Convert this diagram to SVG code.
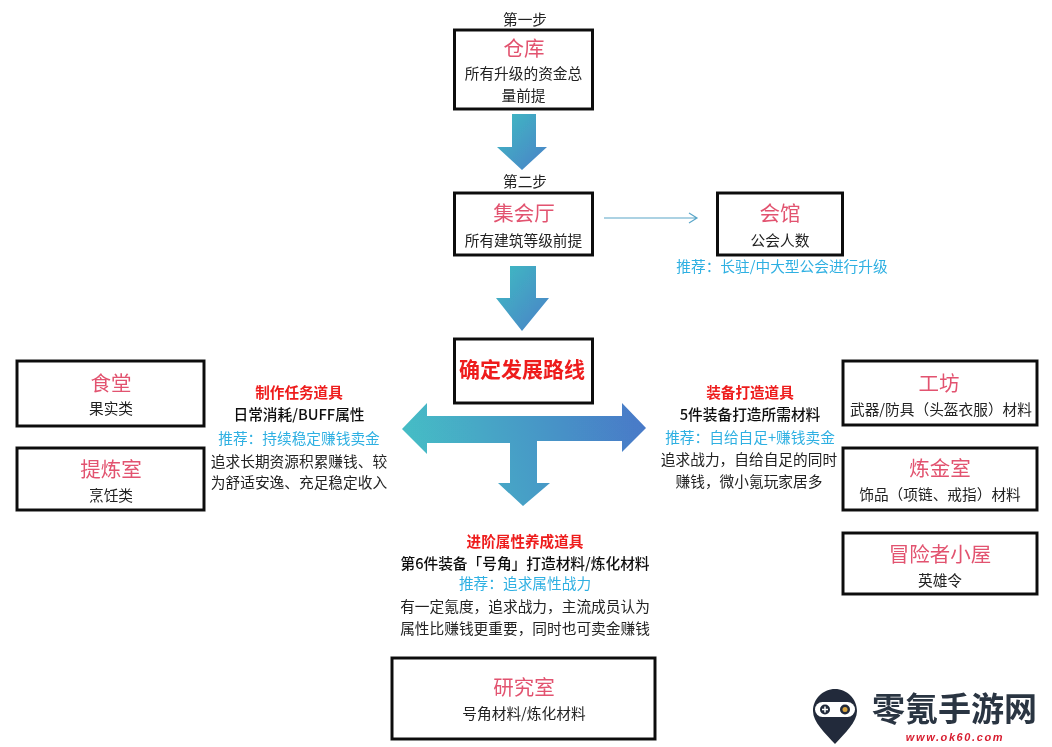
<svg xmlns="http://www.w3.org/2000/svg" width="1052" height="747" viewBox="0 0 1052 747">
<style>
text{font-family:"Noto Sans CJK SC","Noto Sans",sans-serif;text-anchor:middle;font-size:14.7px;fill:#222}
.box{fill:#fff;stroke:#111;stroke-width:3}
.t{font-size:20.5px;fill:#e2536f}
.red{fill:#ee1c1c;font-weight:700;font-size:14.6px}
.blk{fill:#111;font-weight:500}
.cy{fill:#2fb0e2}
.wm{fill:#2a3442;font-size:33px;font-weight:700;text-anchor:start}
.url{fill:#d81e30;font-size:11px;font-weight:700;font-style:italic;letter-spacing:1.600px;font-family:"Liberation Sans",sans-serif}
</style>
<defs>
<linearGradient id="g1" x1="0" y1="0" x2="1" y2="1"><stop offset="0" stop-color="#3fbcc2"/><stop offset="1" stop-color="#4a80c8"/></linearGradient>
<linearGradient id="g2" gradientUnits="userSpaceOnUse" x1="402" y1="470" x2="646" y2="410"><stop offset="0" stop-color="#45c0c5"/><stop offset="1" stop-color="#4878c8"/></linearGradient>
<filter id="soft" filterUnits="userSpaceOnUse" x="0" y="0" width="1052" height="747"><feGaussianBlur stdDeviation="0.35"/></filter>
</defs>
<rect width="1052" height="747" fill="#fff"/>
<g filter="url(#soft)">
<g id="connectors">
<path fill="url(#g1)" d="M512 114H536V147H547L522 170L497 147H512Z"/>
<path fill="url(#g1)" d="M510 266H536V298H549L522 331L496 298H510Z"/>
<path fill="url(#g2)" d="M402 429L427 403V416H622V403L646 428L622 452V441H537V483H550L523 506L498 483H510V443H427V454Z"/>
<path fill="none" stroke="#5aa6c8" stroke-width="1.2" d="M604 218H697M689 213L697 218L689 223"/>
</g>
<g id="step1"><text x="525" y="25">第一步</text></g>
<g id="cangku"><rect class="box" x="454.500" y="30" width="138" height="79"/><text class="t" x="524" y="56">仓库</text><text x="523.500" y="79">所有升级的资金总</text><text x="523.500" y="101">量前提</text></g>
<g id="step2"><text x="525" y="187">第二步</text></g>
<g id="jihuiting"><rect class="box" x="454.500" y="193" width="138" height="62"/><text class="t" x="524" y="221">集会厅</text><text x="523.500" y="246">所有建筑等级前提</text></g>
<g id="huiguan"><rect class="box" x="717.500" y="193" width="125" height="62"/><text class="t" x="780" y="221">会馆</text><text x="780" y="246">公会人数</text></g>
<g id="huiguan-note"><text class="cy" x="782" y="272">推荐：长驻/中大型公会进行升级</text></g>
<g id="route"><rect class="box" x="454.500" y="339" width="138" height="64"/><text class="red" style="font-size:21px" x="522" y="377">确定发展路线</text></g>
<g id="shitang"><rect class="box" x="17" y="361" width="187" height="65"/><text class="t" x="111" y="391">食堂</text><text x="111" y="414">果实类</text></g>
<g id="tilianshi"><rect class="box" x="17" y="448" width="187" height="62"/><text class="t" x="111" y="477">提炼室</text><text x="111" y="501">烹饪类</text></g>
<g id="left-note">
<text class="red" x="299" y="398">制作任务道具</text>
<text class="blk" x="299" y="420">日常消耗/BUFF属性</text>
<text class="cy" x="299" y="444">推荐：持续稳定赚钱卖金</text>
<text x="299" y="467">追求长期资源积累赚钱、较</text>
<text x="299" y="488">为舒适安逸、充足稳定收入</text>
</g>
<g id="right-note">
<text class="red" x="750" y="398">装备打造道具</text>
<text class="blk" x="750" y="420">5件装备打造所需材料</text>
<text class="cy" x="750" y="443">推荐：自给自足+赚钱卖金</text>
<text x="749" y="465">追求战力，自给自足的同时</text>
<text x="749" y="487">赚钱，微小氪玩家居多</text>
</g>
<g id="gongfang"><rect class="box" x="843" y="361" width="194" height="64"/><text class="t" x="939" y="391">工坊</text><text x="941" y="415">武器/防具（头盔衣服）材料</text></g>
<g id="lianjinshi"><rect class="box" x="843" y="448" width="194" height="62"/><text class="t" x="940" y="476">炼金室</text><text x="940" y="500">饰品（项链、戒指）材料</text></g>
<g id="maoxianzhe"><rect class="box" x="843" y="533" width="194" height="61"/><text class="t" x="940" y="562">冒险者小屋</text><text x="940" y="586">英雄令</text></g>
<g id="bottom-note">
<text class="red" x="525" y="547">进阶属性养成道具</text>
<text class="blk" x="525" y="569">第6件装备「号角」打造材料/炼化材料</text>
<text class="cy" x="525" y="589">推荐：追求属性战力</text>
<text x="525" y="612">有一定氪度，追求战力，主流成员认为</text>
<text x="525" y="634">属性比赚钱更重要，同时也可卖金赚钱</text>
</g>
<g id="yanjiushi"><rect class="box" x="392" y="658" width="263" height="81"/><text class="t" x="524" y="695">研究室</text><text x="524" y="719">号角材料/炼化材料</text></g>
<g id="watermark">
<path fill="#222c3a" d="M835 689C847 689 857 699 857 711C857 722 845 733 835 744C825 733 813 722 813 711C813 699 823 689 835 689Z"/>
<rect x="815" y="702" width="40" height="15" rx="7.500" fill="#fff"/>
<circle cx="825" cy="709.500" r="5" fill="#222c3a"/><circle cx="845" cy="709.500" r="5" fill="#222c3a"/>
<path stroke="#fff" stroke-width="1.500" d="M822 709.500H828M825 706.500V712.500"/>
<circle cx="845" cy="709.500" r="2.500" fill="#d9a23a"/>
<text class="wm" x="872" y="721">零氪手游网</text>
<text class="url" x="955" y="741">www.ok60.com</text>
</g>
</g>
</svg>
